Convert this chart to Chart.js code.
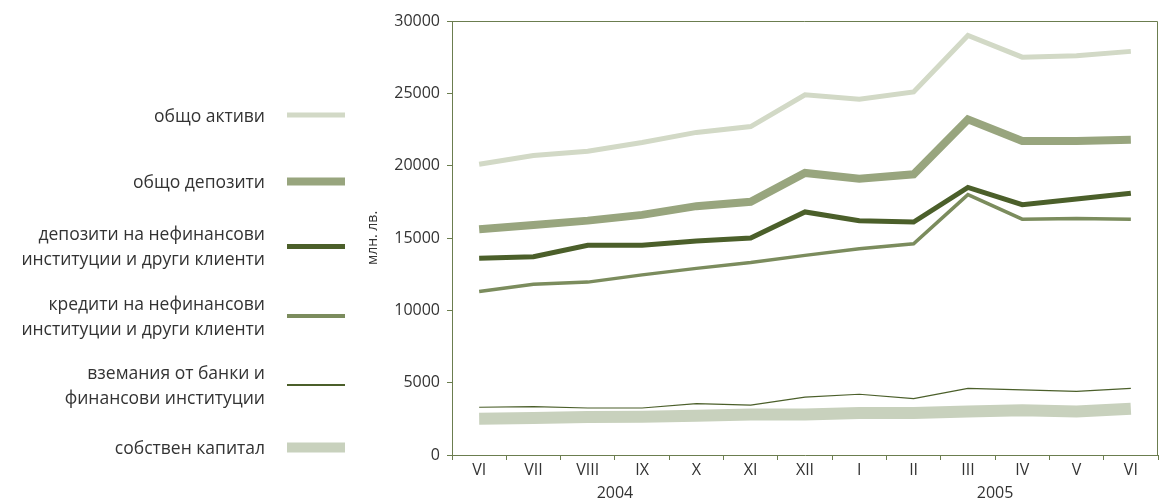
<!DOCTYPE html>
<html>
<head>
<meta charset="utf-8">
<script src="https://cdn.jsdelivr.net/npm/chart.js@4"></script>
<style>
  html, body { margin: 0; padding: 0; background: #fff; }
  #wrap { position: relative; width: 1159px; height: 500px; }
  #chart { position: absolute; left: 0; top: 0; }
  .lg-row { position: absolute; left: 0; width: 350px; display: flex; align-items: center; transform: translateY(-50%); }
  .lg-text { width: 265px; text-align: right; font: 17.5px "Open Sans", sans-serif; color: #333; line-height: 25px; white-space: nowrap; }
  .lg-line { margin-left: 22px; width: 58px; }
</style>
</head>
<body>
<div id="wrap">
  <canvas id="chart" width="1159" height="500"></canvas>
  <div id="legend"></div>
</div>
<script>
const months = ['VI', 'VII', 'VIII', 'IX', 'X', 'XI', 'XII', 'I', 'II', 'III', 'IV', 'V', 'VI'];
const years = [{ label: '2004', at: 2.5 }, { label: '2005', at: 9.5 }];

const totalAssets = [20100, 20700, 21000, 21600, 22300, 22700, 24900, 24600, 25100, 29000, 27500, 27600, 27900];
const totalDeposits = [15600, 15900, 16200, 16600, 17200, 17500, 19500, 19100, 19400, 23200, 21700, 21700, 21800];
const nonFinDeposits = [13600, 13700, 14500, 14500, 14800, 15000, 16800, 16200, 16100, 18500, 17300, 17700, 18100];
const nonFinCredits = [11300, 11800, 11950, 12450, 12900, 13300, 13800, 14250, 14600, 18000, 16300, 16350, 16300];
const bankClaims = [3300, 3350, 3250, 3250, 3550, 3450, 4000, 4200, 3900, 4600, 4500, 4400, 4600];
const ownCapital = [2500, 2550, 2620, 2650, 2720, 2800, 2800, 2900, 2900, 3000, 3100, 3000, 3200];

const series = [
  { label: ['общо активи'], data: totalAssets, color: '#d2d9c6', width: 5 },
  { label: ['общо депозити'], data: totalDeposits, color: '#98a57e', width: 8 },
  { label: ['депозити на нефинансови', 'институции и други клиенти'], data: nonFinDeposits, color: '#4b5f2a', width: 5 },
  { label: ['кредити на нефинансови', 'институции и други клиенти'], data: nonFinCredits, color: '#7b8c5d', width: 3.5 },
  { label: ['вземания от банки и', 'финансови институции'], data: bankClaims, color: '#4b5f2a', width: 1.2 },
  { label: ['собствен капитал'], data: ownCapital, color: '#c8d1bd', width: 12 }
];

const AXIS = '#6b7d4f';
const FONT = '"Open Sans", sans-serif';

// legend on the left
const legendY = [115, 181, 246, 316, 385, 447];
const lg = document.getElementById('legend');
lg.innerHTML = series.map((s, i) => `
  <div class="lg-row" style="top:${legendY[i]}px">
    <div class="lg-text">${s.label.join('<br>')}</div>
    <div class="lg-line" style="height:${Math.min(s.width, 10)}px;background:${s.color}"></div>
  </div>`).join('');

const framePlugin = {
  id: 'frame',
  afterDraw(chart) {
    const { ctx, chartArea: a, scales } = chart;
    ctx.save();
    ctx.strokeStyle = AXIS;
    ctx.lineWidth = 1;
    ctx.beginPath();
    ctx.moveTo(a.left, a.top + 0.5);
    ctx.lineTo(a.right - 0.5, a.top + 0.5);
    ctx.lineTo(a.right - 0.5, a.bottom);
    ctx.stroke();
    ctx.fillStyle = '#333';
    ctx.font = '16px ' + FONT;
    ctx.textAlign = 'center';
    ctx.textBaseline = 'middle';
    years.forEach(y => ctx.fillText(y.label, scales.x.getPixelForValue(y.at), a.bottom + 38));
    ctx.restore();
  }
};

new Chart(document.getElementById('chart'), {
  type: 'line',
  data: {
    labels: months,
    datasets: series.map(s => ({
      label: s.label.join(' '),
      data: s.data,
      borderColor: s.color,
      backgroundColor: s.color,
      borderWidth: s.width,
      pointRadius: 0,
      tension: 0,
      borderJoinStyle: 'miter'
    }))
  },
  options: {
    responsive: false,
    animation: false,
    layout: { padding: { left: 365, top: 21, right: 1, bottom: 0 } },
    plugins: { legend: { display: false }, tooltip: { enabled: false } },
    scales: {
      x: {
        offset: true,
        grid: { offset: true, drawOnChartArea: false, color: AXIS, tickLength: 5 },
        border: { color: AXIS },
        ticks: { color: '#333', font: { size: 16, family: FONT }, padding: 1, maxRotation: 0, autoSkip: false },
        afterFit(s) { s.height = 45; }
      },
      y: {
        min: 0, max: 30000,
        grid: { drawOnChartArea: false, color: AXIS, tickLength: 5 },
        border: { color: AXIS },
        ticks: { stepSize: 5000, color: '#333', font: { size: 16, family: FONT }, padding: 7, callback: v => String(v) },
        title: { display: true, text: 'млн. лв.', color: '#333', font: { size: 14, family: FONT }, padding: 0 },
        afterFit(s) { s.width = 87; }
      }
    }
  },
  plugins: [framePlugin]
});
</script>
</body>
</html>
